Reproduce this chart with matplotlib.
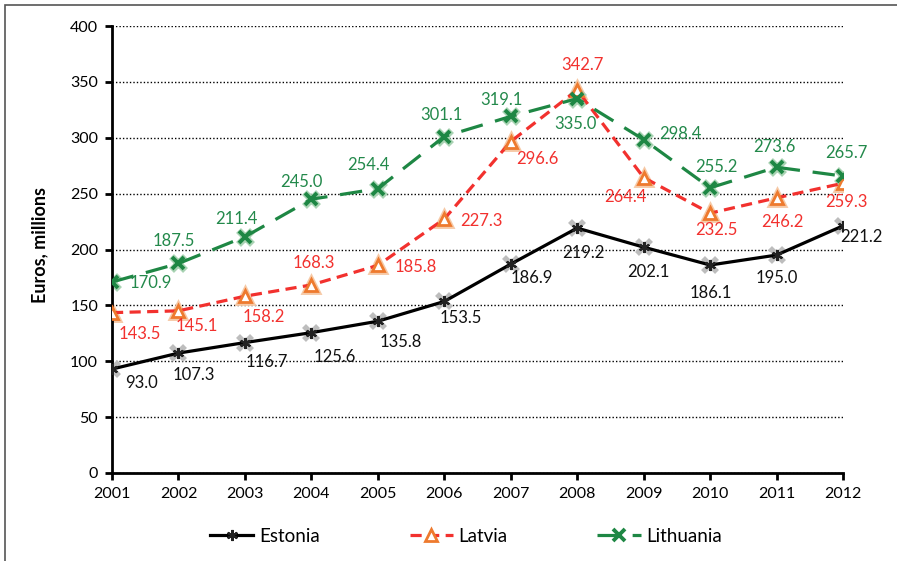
import matplotlib
matplotlib.use("Agg")
import matplotlib.pyplot as plt
from matplotlib.patches import Rectangle

plt.rcParams['font.family'] = ['Lato', 'DejaVu Sans']

years = [2001, 2002, 2003, 2004, 2005, 2006, 2007, 2008, 2009, 2010, 2011, 2012]
estonia = [93.0, 107.3, 116.7, 125.6, 135.8, 153.5, 186.9, 219.2, 202.1, 186.1, 195.0, 221.2]
latvia = [143.5, 145.1, 158.2, 168.3, 185.8, 227.3, 296.6, 342.7, 264.4, 232.5, 246.2, 259.3]
lithuania = [170.9, 187.5, 211.4, 245.0, 254.4, 301.1, 319.1, 335.0, 298.4, 255.2, 273.6, 265.7]

# label offsets in pixels (dx, dy), dy positive = down
est_off = [(30, 14), (15, 22), (22, 19), (23, 24), (23, 21), (17, 17),
           (21, 14), (6, 25), (5, 25), (1, 28), (0, 23), (18, 11)]
lat_off = [(28, 21), (18, 15), (19, 21), (2, -22), (38, 2), (37, 2),
           (27, 17), (5, -25), (-18, 19), (6, 17), (6, 24), (3, 19)]
lit_off = [(39, 1), (-5, -22), (-9, -18), (-10, -17), (-9, -24), (-3, -22),
           (-9, -16), (-2, 25), (37, -6), (6, -21), (-2, -20), (3, -23)]

c_est = '#000000'
c_lat = '#F2312E'
c_lat_mk = '#EE7A2E'
c_lit = '#1E8744'

fig = plt.figure(figsize=(8.97, 5.61), dpi=100)
ax = fig.add_axes([112 / 897, 1 - 473 / 561, (843 - 112) / 897, (473 - 26) / 561])

# soft glow under markers
ax.plot(years, estonia, ls='none', marker='x', ms=10, mew=4, color='#bdbdbd', zorder=2)
ax.plot(years, latvia, ls='none', marker='^', ms=10.5, mew=3.5, mfc='none', mec='#f6c9a6', zorder=2)
ax.plot(years, lithuania, ls='none', marker='x', ms=10, mew=5, color='#a9d3b3', zorder=2)

ax.plot(years, estonia, color=c_est, lw=2.3, marker=(6, 2, 0), ms=8, mew=1.5,
        mec='#222222', label='Estonia', zorder=3)
ax.plot(years, latvia, color=c_lat, lw=2.3, ls=(0, (3.5, 2)), marker='^', ms=9, mew=2,
        mfc='white', mec=c_lat_mk, label='Latvia', zorder=4)
ax.plot(years, lithuania, color=c_lit, lw=2.3, ls=(0, (7, 4)), marker='x', ms=8.5, mew=2.8,
        mec=c_lit, label='Lithuania', zorder=5)

for vals, offs, col in [(estonia, est_off, '#111111'), (latvia, lat_off, c_lat),
                        (lithuania, lit_off, '#23894B')]:
    for x, v, (dx, dy) in zip(years, vals, offs):
        ax.annotate(f"{v:.1f}", (x, v), xytext=(dx, -dy), textcoords='offset pixels',
                    ha='center', va='center', fontsize=12, color=col, zorder=6)

ax.set_xlim(2001, 2012)
ax.set_ylim(0, 400)
ax.set_xticks(years)
ax.set_yticks(range(0, 401, 50))
ax.tick_params(axis='both', labelsize=11.5, width=2, length=5, direction='out', pad=5)
ax.yaxis.grid(True, linestyle=(0, (1, 1.5)), color='black', lw=1)
ax.set_axisbelow(True)
for s in ['top', 'right']:
    ax.spines[s].set_visible(False)
for s in ['left', 'bottom']:
    ax.spines[s].set_linewidth(2)

fig.text(40 / 897, 1 - 245 / 561, 'Euros, millions', rotation=90, ha='center', va='center',
         fontsize=13, fontweight='bold')

fig.legend(loc='center', bbox_to_anchor=(466 / 897, 1 - 536 / 561), ncol=3, frameon=False,
           fontsize=13.5, handlelength=2.3, columnspacing=4.8, handletextpad=0.3)

fig.patches.append(Rectangle((5 / 897, -0.1), 1.2, 1 - 5 / 561 + 0.1, transform=fig.transFigure,
                             fill=False, edgecolor='#555555', lw=1.2, figure=fig))

fig.savefig('out.png', dpi=100)
